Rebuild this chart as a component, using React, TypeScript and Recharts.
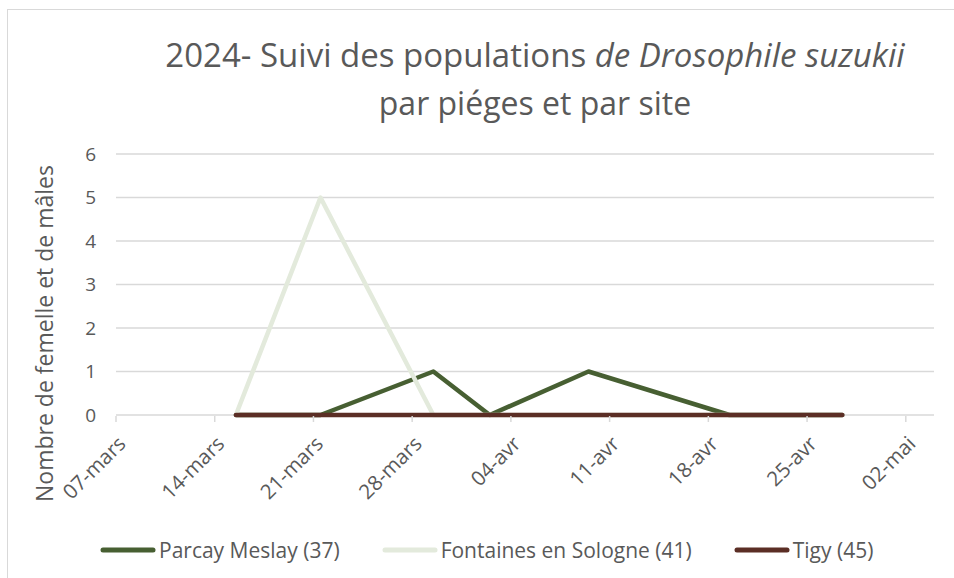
import { CartesianGrid, Legend, Line, LineChart, XAxis, YAxis } from "recharts";

const WIDTH = 954;
const HEIGHT = 578;
const FONT = "'Open Sans', sans-serif";
const TEXT_COLOR = "#595959";
const GRID_COLOR = "#d9d9d9";

// relevés (dates de passage) et captures par site
const sampleDates = ["2024-03-15", "2024-03-21", "2024-03-29", "2024-04-02", "2024-04-09", "2024-04-19", "2024-04-27"];
const parcayValues = [0, 0, 1, 0, 1, 0, 0];
const fontainesValues = [0, 5, 0, 0, 0, 0, 0];
const tigyValues = [0, 0, 0, 0, 0, 0, 0];

const tickLabels = ["07-mars", "14-mars", "21-mars", "28-mars", "04-avr", "11-avr", "18-avr", "25-avr", "02-mai"];
const yTicks = [0, 1, 2, 3, 4, 5, 6];

const SERIES = [
  { key: "parcay", name: "Parcay Meslay (37)", color: "#475f32" },
  { key: "fontaines", name: "Fontaines en Sologne (41)", color: "#e3eadc" },
  { key: "tigy", name: "Tigy (45)", color: "#5b2e25" },
];

const AXIS_START = Date.UTC(2024, 2, 7);
const DAY_MS = 86400000;

// axe de dates Excel "entre les graduations" : chaque jour est centré dans sa case
const toDay = (iso: string) => {
  const [y, m, d] = iso.split("-").map(Number);
  return (Date.UTC(y, m - 1, d) - AXIS_START) / DAY_MS + 0.5;
};

const data = sampleDates.map((date, i) => ({
  day: toDay(date),
  parcay: parcayValues[i],
  fontaines: fontainesValues[i],
  tigy: tigyValues[i],
}));

const xTicks = tickLabels.map((_, i) => i * 7);

// graduation + libellé incliné ; la graduation commence sous le trait de Tigy
const XTick = (props: any) => {
  const { x, y, payload } = props;
  const label = tickLabels[xTicks.indexOf(payload.value)] ?? "";
  return (
    <g>
      <line x1={x} y1={y + 1} x2={x} y2={y + 7} stroke={GRID_COLOR} strokeWidth={1.5} />
      <g transform={`translate(${x + 11},${y + 30})`}>
        <text transform="rotate(-45)" textAnchor="end" fill={TEXT_COLOR} fontSize={20.5} fontFamily={FONT}>
          {label}
        </text>
      </g>
    </g>
  );
};

const LegendContent = () => (
  <div style={{ display: "flex", alignItems: "center", fontFamily: FONT, fontSize: 21, color: TEXT_COLOR, whiteSpace: "nowrap" }}>
    {SERIES.map((s, i) => (
      <div key={s.key} style={{ display: "flex", alignItems: "center", marginLeft: i === 0 ? 0 : 42 }}>
        <svg width={56} height={8} style={{ marginRight: 3 }}>
          <line x1={3} y1={4} x2={53} y2={4} stroke={s.color} strokeWidth={5} strokeLinecap="round" />
        </svg>
        <span>{s.name}</span>
      </div>
    ))}
  </div>
);

const YTitle = (props: any) => {
  const { viewBox } = props;
  const cy = viewBox.y + viewBox.height / 2 + 49;
  return (
    <text x={44} y={cy} transform={`rotate(-90, 44, ${cy})`} textAnchor="middle" dominantBaseline="central" fill={TEXT_COLOR} fontSize={23} fontFamily={FONT}>
      Nombre de femelle et de mâles
    </text>
  );
};

export default function App() {
  return (
    <div style={{ position: "absolute", left: 0, top: 0, width: WIDTH, height: HEIGHT, overflow: "hidden", background: "#fff" }}>
      <div style={{ position: "absolute", left: 7, top: 9, width: 1000, height: 1000, border: `1px solid ${GRID_COLOR}` }} />
      <div
        style={{
          position: "absolute",
          left: 135,
          top: 31,
          width: 800,
          textAlign: "center",
          fontFamily: FONT,
          fontSize: 32,
          lineHeight: "48px",
          color: TEXT_COLOR,
          zIndex: 2,
        }}
      >
        <span style={{ fontSize: 33 }}>
          2024- Suivi des populations <i>de Drosophile suzukii</i>
        </span>
        <br />
        par piéges et par site
      </div>
      <LineChart width={WIDTH} height={HEIGHT} data={data} margin={{ top: 154, right: 20, bottom: 0, left: 0 }}>
        <CartesianGrid vertical={false} stroke={GRID_COLOR} strokeWidth={1.5} />
        <XAxis
          dataKey="day"
          type="number"
          domain={[0, 58]}
          ticks={xTicks}
          interval={0}
          allowDataOverflow
          height={163}
          axisLine={false}
          tickLine={false}
          tickSize={0}
          tickMargin={0}
          tick={<XTick />}
        />
        <YAxis
          domain={[0, 6]}
          ticks={yTicks}
          width={116}
          axisLine={false}
          tickLine={false}
          tickMargin={14}
          tick={{ fill: TEXT_COLOR, fontSize: 19, fontFamily: FONT }}
          label={<YTitle />}
        />
        <Legend
          layout="horizontal"
          verticalAlign="middle"
          align="center"
          wrapperStyle={{ left: 100, top: 536, width: "auto" }}
          content={<LegendContent />}
        />
        {SERIES.map((s) => (
          <Line
            key={s.key}
            dataKey={s.key}
            name={s.name}
            type="linear"
            stroke={s.color}
            strokeWidth={4.5}
            strokeLinecap="round"
            strokeLinejoin="round"
            dot={false}
            activeDot={false}
            isAnimationActive={false}
          />
        ))}
      </LineChart>
    </div>
  );
}
